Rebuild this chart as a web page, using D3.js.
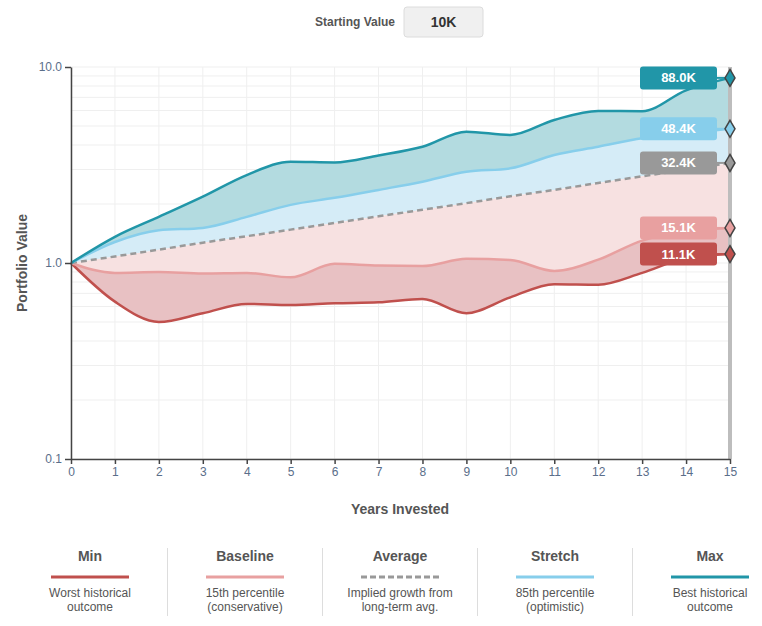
<!DOCTYPE html>
<html>
<head>
<meta charset="utf-8">
<script src="https://cdn.jsdelivr.net/npm/d3@7"></script>
<style>
  body { margin: 0; background: #fff; }
  svg { display: block; font-family: "Liberation Sans", Arial, sans-serif; }
</style>
</head>
<body>
<svg id="chart" width="762" height="626"></svg>
<script>
// growth of 1.0 (x 10K) per year
var years = [0, 1, 2, 3, 4, 5, 6, 7, 8, 9, 10, 11, 12, 13, 14, 15];
var maxVals = [1.00, 1.36, 1.72, 2.18, 2.81, 3.29, 3.26, 3.54, 3.92, 4.68, 4.50, 5.37, 5.97, 5.95, 7.60, 8.80];
var stretchVals = [1.00, 1.28, 1.47, 1.51, 1.72, 1.98, 2.15, 2.36, 2.60, 2.92, 3.04, 3.56, 3.92, 4.33, 4.59, 4.84];
var avgVals = [1.00, 1.08, 1.17, 1.27, 1.37, 1.48, 1.60, 1.73, 1.87, 2.02, 2.19, 2.36, 2.56, 2.77, 2.99, 3.24];
var baseVals = [1.00, 0.89, 0.90, 0.885, 0.89, 0.845, 0.99, 0.97, 0.965, 1.05, 1.035, 0.91, 1.04, 1.30, 1.45, 1.51];
var minVals = [1.00, 0.635, 0.50, 0.554, 0.618, 0.61, 0.623, 0.63, 0.655, 0.554, 0.668, 0.78, 0.775, 0.89, 1.06, 1.11];
var yTicks = [0.1, 1, 10];

var legendTitles = ["Min", "Baseline", "Average", "Stretch", "Max"];
var legendDescs = [
	["Worst historical", "outcome"],
	["15th percentile", "(conservative)"],
	["Implied growth from", "long-term avg."],
	["85th percentile", "(optimistic)"],
	["Best historical", "outcome"]
];

var C_MIN = "#c0504d", C_BASE = "#e8a0a0", C_AVG = "#999999", C_STRETCH = "#87ceeb", C_MAX = "#2196a8";

var svg = d3.select("#chart");
var plotLeft = 71, plotRight = 730, plotTop = 67, plotBottom = 459;

var x = d3.scaleLinear().domain([0, 15]).range([plotLeft, plotRight]);
var y = d3.scaleLog().domain([0.1, 10]).range([plotBottom, plotTop]);

// starting value box
svg.append("text")
	.attr("x", 395).attr("y", 22)
	.attr("text-anchor", "end").attr("dominant-baseline", "central")
	.style("font-size", "12px").style("font-weight", "bold").style("fill", "#555")
	.text("Starting Value");
svg.append("rect")
	.attr("x", 404).attr("y", 7).attr("width", 79).attr("height", 30).attr("rx", 3)
	.style("fill", "#f0f0f0").style("stroke", "#dcdcdc");
svg.append("text")
	.attr("x", 443.5).attr("y", 22)
	.attr("text-anchor", "middle").attr("dominant-baseline", "central")
	.style("font-size", "14px").style("font-weight", "bold").style("fill", "#333")
	.text("10K");

// grid
var grid = svg.append("g");
grid.selectAll("line.v").data(years).enter().append("line")
	.attr("x1", function(d) { return x(d); }).attr("x2", function(d) { return x(d); })
	.attr("y1", plotTop).attr("y2", plotBottom)
	.style("stroke", "#efefef");
grid.selectAll("line.h").data(y.ticks()).enter().append("line")
	.attr("x1", plotLeft).attr("x2", plotRight)
	.attr("y1", function(d) { return y(d); }).attr("y2", function(d) { return y(d); })
	.style("stroke", "#efefef");

// bands between series
function band(upper, lower, fill) {
	var area = d3.area()
		.x(function(d, i) { return x(years[i]); })
		.y0(function(d, i) { return y(lower[i]); })
		.y1(function(d, i) { return y(upper[i]); })
		.curve(d3.curveMonotoneX);
	svg.append("path").attr("d", area(years)).style("fill", fill);
}
band(maxVals, stretchVals, "#b3dbe0");
band(stretchVals, avgVals, "#d5ecf7");
band(avgVals, baseVals, "#f7e1e1");
band(baseVals, minVals, "#e8c1c3");

// grey end bar
svg.append("line")
	.attr("x1", x(15)).attr("x2", x(15)).attr("y1", plotTop).attr("y2", plotBottom)
	.style("stroke", "#bdbdbd").style("stroke-width", 4);

// series lines
var series = [
	{ vals: minVals, color: C_MIN },
	{ vals: baseVals, color: C_BASE },
	{ vals: avgVals, color: C_AVG, dash: "6,4" },
	{ vals: stretchVals, color: C_STRETCH },
	{ vals: maxVals, color: C_MAX }
];
series.forEach(function(s) {
	var line = d3.line()
		.x(function(d, i) { return x(years[i]); })
		.y(function(d, i) { return y(s.vals[i]); })
		.curve(d3.curveMonotoneX);
	svg.append("path").attr("d", line(years))
		.style("fill", "none").style("stroke", s.color).style("stroke-width", 2.5)
		.style("stroke-dasharray", s.dash || null);
});

// axes
var xAxis = svg.append("g").attr("transform", "translate(0," + plotBottom + ")")
	.call(d3.axisBottom(x).tickValues(years).tickSize(5).tickSizeOuter(0));
var yAxis = svg.append("g").attr("transform", "translate(" + plotLeft + ",0)")
	.call(d3.axisLeft(y).tickValues(yTicks).tickFormat(d3.format(".1f")).tickSize(6).tickSizeOuter(0));
[xAxis, yAxis].forEach(function(a) {
	a.selectAll("path, line").style("stroke", "#444").style("stroke-width", 1.5);
	a.selectAll("text").style("font-size", "12px").style("fill", "#5a6e8a")
		.style("font-family", "'Liberation Sans', Arial, sans-serif");
});

// end labels and diamonds
series.forEach(function(s) {
	var v = s.vals[s.vals.length - 1];
	var yy = y(v);
	svg.append("line")
		.attr("x1", 716).attr("x2", x(15)).attr("y1", yy).attr("y2", yy)
		.style("stroke", s.color).style("stroke-width", 2);
	svg.append("rect")
		.attr("x", 640).attr("y", yy - 11.5).attr("width", 77).attr("height", 23).attr("rx", 3)
		.style("fill", s.color);
	svg.append("text")
		.attr("x", 678.5).attr("y", yy)
		.attr("text-anchor", "middle").attr("dominant-baseline", "central")
		.style("font-size", "13px").style("font-weight", "bold").style("fill", "#fff")
		.text(d3.format(".1f")(v * 10) + "K");
	svg.append("path")
		.attr("d", "M0,-8.5L5,0L0,8.5L-5,0Z")
		.attr("transform", "translate(" + x(15) + "," + yy + ")")
		.style("fill", s.color).style("stroke", "#444").style("stroke-width", 1.5);
});

// axis titles
svg.append("text")
	.attr("transform", "translate(27,263) rotate(-90)")
	.attr("text-anchor", "middle")
	.style("font-size", "14px").style("font-weight", "bold").style("fill", "#555")
	.text("Portfolio Value");
svg.append("text")
	.attr("x", 400).attr("y", 514)
	.attr("text-anchor", "middle")
	.style("font-size", "14px").style("font-weight", "bold").style("fill", "#555")
	.text("Years Invested");

// legend
var legendColors = [C_MIN, C_BASE, C_AVG, C_STRETCH, C_MAX];
legendTitles.forEach(function(t, i) {
	var cx = 90 + i * 155;
	var g = svg.append("g");
	g.append("text")
		.attr("x", cx).attr("y", 561)
		.attr("text-anchor", "middle")
		.style("font-size", "14px").style("font-weight", "bold").style("fill", "#555")
		.text(t);
	g.append("line")
		.attr("x1", cx - 39).attr("x2", cx + 39).attr("y1", 577).attr("y2", 577)
		.style("stroke", legendColors[i]).style("stroke-width", 3)
		.style("stroke-dasharray", i === 2 ? "6,3" : null);
	legendDescs[i].forEach(function(line, j) {
		g.append("text")
			.attr("x", cx).attr("y", 597 + j * 14)
			.attr("text-anchor", "middle")
			.style("font-size", "12px").style("fill", "#555")
			.text(line);
	});
	if (i < 4) {
		g.append("line")
			.attr("x1", cx + 77.5).attr("x2", cx + 77.5).attr("y1", 548).attr("y2", 616)
			.style("stroke", "#ddd");
	}
});
</script>
</body>
</html>
